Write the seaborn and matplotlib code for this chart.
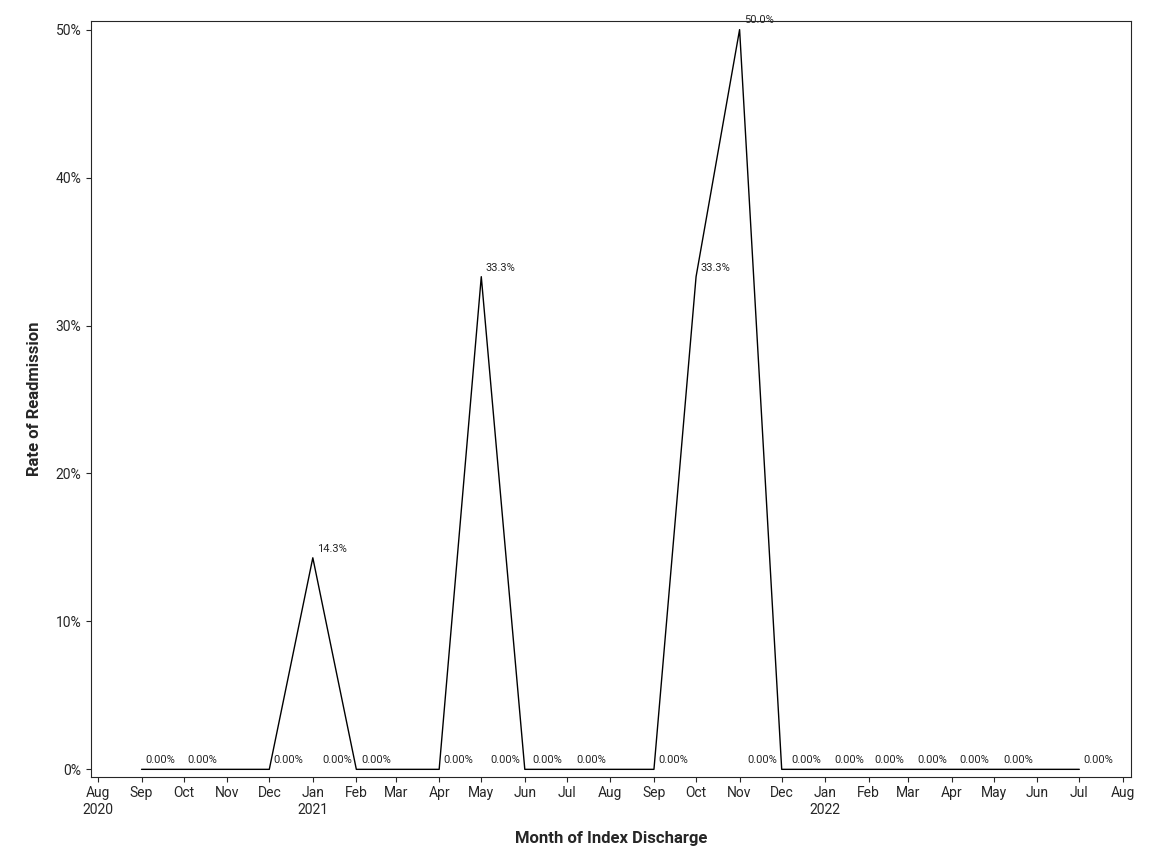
import matplotlib
matplotlib.use("Agg")
import matplotlib.pyplot as plt
import matplotlib.dates as mdates
import seaborn as sns
import pandas as pd
import numpy as np

months = ["2020-09","2020-10","2020-12","2021-01","2021-02","2021-03","2021-04","2021-05",
          "2021-06","2021-07","2021-08","2021-09","2021-10","2021-11","2021-12","2022-01",
          "2022-02","2022-03","2022-04","2022-05","2022-06","2022-07"]
rates = [0,0,0,14.3,0,0,0,33.3,0,0,0,0,33.3,50.0,0,0,0,0,0,0,0,0]
label_side = ["R","R","R","R","L","L","R","R","L","L","L","R","R","R","L","L","L","L","L","L","L","R"]

df = pd.DataFrame({"month": pd.to_datetime(months), "rate": rates})

sns.set_style("ticks")
plt.rcParams['font.family'] = ['Roboto', 'DejaVu Sans']
fig, ax = plt.subplots(figsize=(11.52, 8.64), dpi=100)
fig.subplots_adjust(left=0.079, right=0.982, top=0.976, bottom=0.101)
sns.lineplot(data=df, x="month", y="rate", color="black", linewidth=1, ax=ax)

for d, r, s in zip(df["month"], df["rate"], label_side):
    txt = "0.00%" if r == 0 else f"{r:.1f}%"
    if s == "R":
        ax.annotate(txt, (d, r), xytext=(3, 3), textcoords="offset points", fontsize=8, ha="left", va="bottom")
    else:
        ax.annotate(txt, (d, r), xytext=(-3, 3), textcoords="offset points", fontsize=8, ha="right", va="bottom")

ticks = pd.date_range("2020-08-01", "2022-08-01", freq="MS")
ax.set_xticks(ticks)
labs = []
for t in ticks:
    if t.month == 1 or t == ticks[0]:
        labs.append(t.strftime("%b") + "\n" + str(t.year))
    else:
        labs.append(t.strftime("%b"))
ax.set_xticklabels(labs, fontsize=10)
ax.set_xlim(pd.Timestamp("2020-07-27"), pd.Timestamp("2022-08-07"))
ax.set_ylim(-0.5, 50.6)
ax.set_yticks([0,10,20,30,40,50])
ax.set_yticklabels([f"{v}%" for v in [0,10,20,30,40,50]], fontsize=10)
ax.set_xlabel("Month of Index Discharge", fontsize=12, fontweight="bold", labelpad=10)
ax.set_ylabel("Rate of Readmission", fontsize=12, fontweight="bold", labelpad=10)
for sp in ax.spines.values():
    sp.set_visible(True)
    sp.set_linewidth(0.8)
fig.savefig("out.png")
